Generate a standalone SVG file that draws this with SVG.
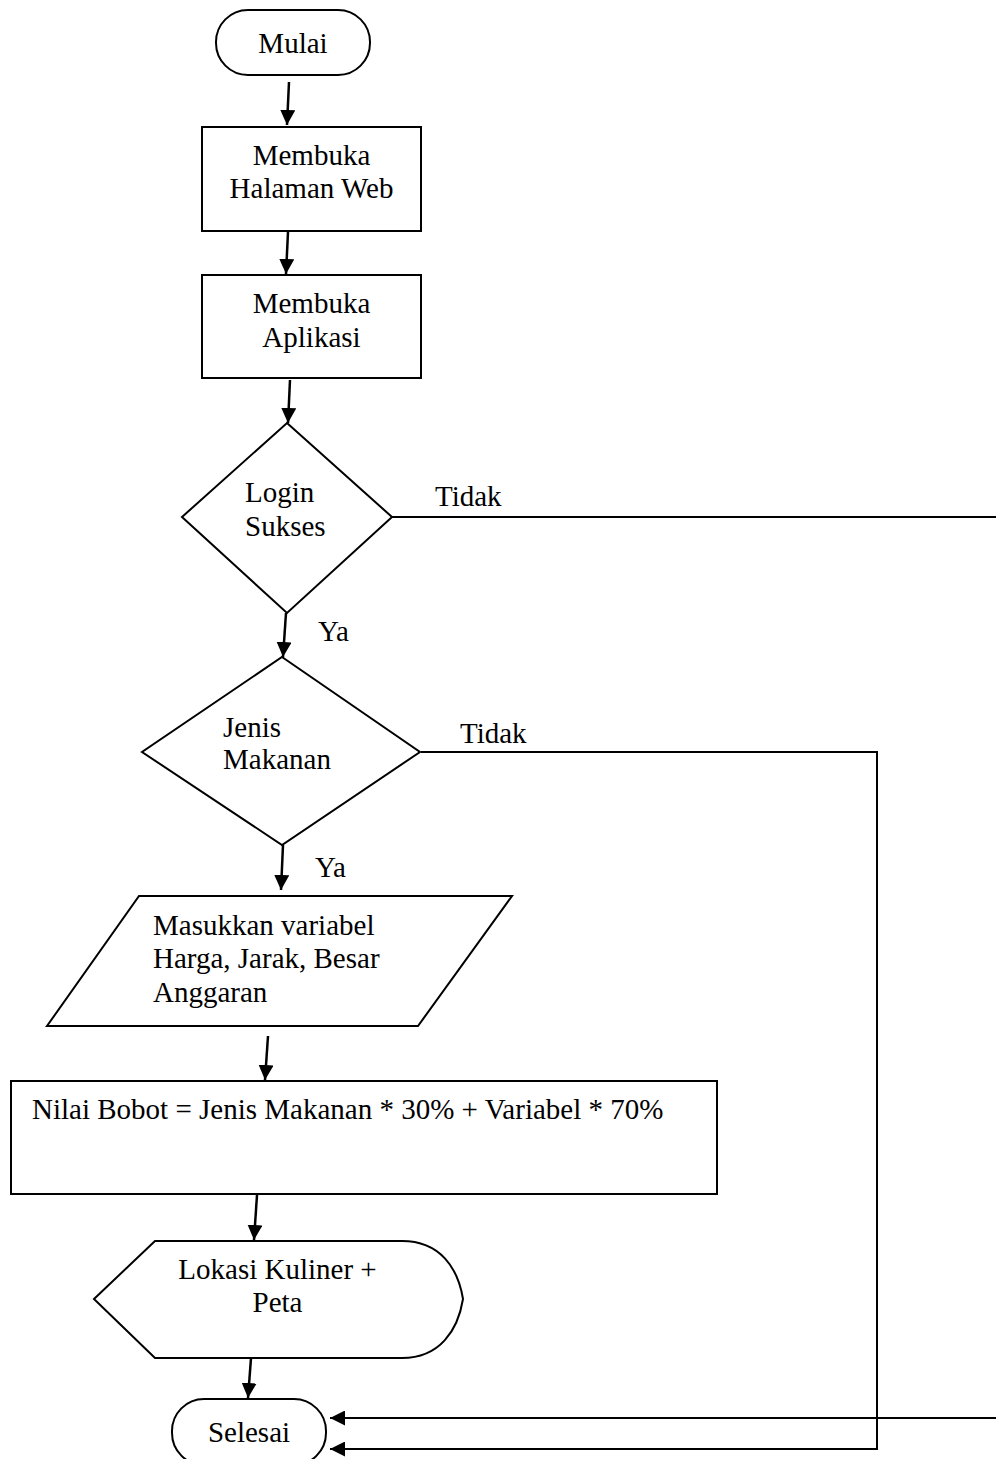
<svg xmlns="http://www.w3.org/2000/svg" width="996" height="1459" viewBox="0 0 996 1459">
<style>
.s{fill:#fff;stroke:#000;stroke-width:2}
.t{font-family:"Liberation Serif","Times New Roman",serif;font-size:29px;fill:#000}
.m{text-anchor:middle}
.c{fill:none;stroke:#000;stroke-width:2.5}
.l{fill:none;stroke:#000;stroke-width:2}
</style>
<defs>
<marker id="ah" markerUnits="userSpaceOnUse" markerWidth="15" markerHeight="15" refX="15" refY="7.5" orient="auto">
<path d="M0,0 L15,7.5 L0,15 z" fill="#000"/>
</marker>
</defs>
<rect width="996" height="1459" fill="#fff"/>
<g id="connectors">
<path class="c" d="M289,82 L287,125" marker-end="url(#ah)"/>
<path class="c" d="M288,232 L286,274" marker-end="url(#ah)"/>
<path class="c" d="M290,380 L288,423" marker-end="url(#ah)"/>
<path class="c" d="M286,613 L283,657" marker-end="url(#ah)"/>
<path class="c" d="M283,845 L281,890" marker-end="url(#ah)"/>
<path class="c" d="M268,1036 L265,1080" marker-end="url(#ah)"/>
<path class="c" d="M257,1195 L254,1240" marker-end="url(#ah)"/>
<path class="c" d="M251,1358 L248,1398" marker-end="url(#ah)"/>
<path class="l" d="M392,517 H1000 V1418 H330" marker-end="url(#ah)"/>
<path class="l" d="M421,752 H877 V1449 H330" marker-end="url(#ah)"/>
<text class="t" x="435" y="506">Tidak</text>
<text class="t" x="318" y="641">Ya</text>
<text class="t" x="460" y="743">Tidak</text>
<text class="t" x="315" y="877">Ya</text>
</g>
<g id="mulai">
<rect class="s" x="216" y="10" width="154" height="65" rx="32" ry="32"/>
<text class="t m" x="293" y="53">Mulai</text>
</g>
<g id="halaman-web">
<rect class="s" x="202" y="127" width="219" height="104"/>
<text class="t m" x="311.5" y="165">Membuka</text>
<text class="t m" x="311.5" y="198">Halaman Web</text>
</g>
<g id="aplikasi">
<rect class="s" x="202" y="275" width="219" height="103"/>
<text class="t m" x="311.5" y="313">Membuka</text>
<text class="t m" x="311.5" y="347">Aplikasi</text>
</g>
<g id="login">
<polygon class="s" points="287,423 392,517 287,613 182,517"/>
<text class="t" x="245" y="502">Login</text>
<text class="t" x="245" y="536">Sukses</text>
</g>
<g id="jenis">
<polygon class="s" points="282,657 420,752 282,845 142,752"/>
<text class="t" x="223" y="737">Jenis</text>
<text class="t" x="223" y="769">Makanan</text>
</g>
<g id="input">
<polygon class="s" points="139,896 512,896 418,1026 47,1026"/>
<text class="t" x="153" y="935">Masukkan variabel</text>
<text class="t" x="153" y="968">Harga, Jarak, Besar</text>
<text class="t" x="153" y="1002">Anggaran</text>
</g>
<g id="nilai">
<rect class="s" x="11" y="1081" width="706" height="113"/>
<text class="t" x="32" y="1119">Nilai Bobot = Jenis Makanan * 30% + Variabel * 70%</text>
</g>
<g id="lokasi">
<path class="s" d="M94,1299 L155,1241 L402,1241 C440,1241 458,1268 463,1299 C458,1330 440,1358 402,1358 L155,1358 Z"/>
<text class="t m" x="277.5" y="1279">Lokasi Kuliner +</text>
<text class="t m" x="277.5" y="1312">Peta</text>
</g>
<g id="selesai">
<rect class="s" x="172" y="1399" width="154" height="66" rx="32" ry="32"/>
<text class="t m" x="249" y="1442">Selesai</text>
</g>
</svg>
